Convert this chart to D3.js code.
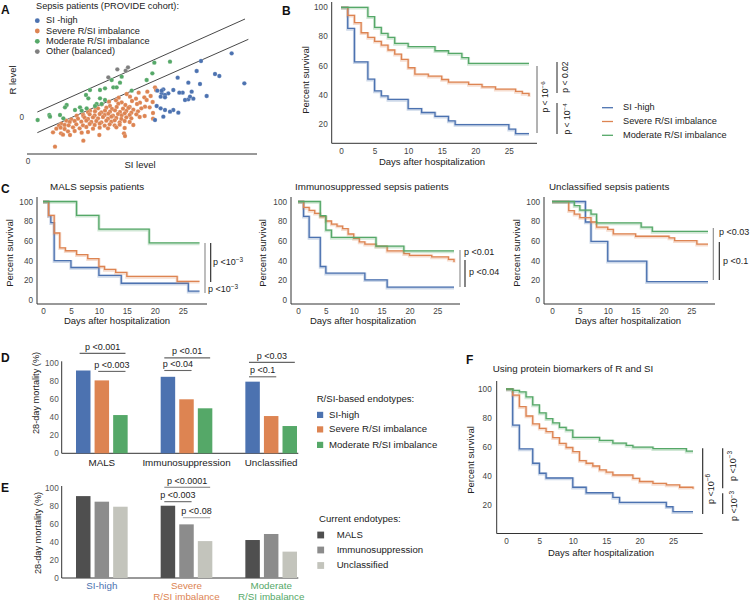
<!DOCTYPE html>
<html><head><meta charset="utf-8">
<script src="https://cdn.jsdelivr.net/npm/d3@7"></script>
<style>body{margin:0;background:#fff}svg{display:block}</style>
</head><body><svg id="c" width="750" height="604"></svg>
<script>
// ================= DATA =================
const seriesNames = ["SI -high","Severe R/SI imbalance","Moderate R/SI imbalance","Other (balanced)"];
// Panel A scatter: [SI level, R level]
const aSevere = [[38.1,9.2],[38.4,8.4],[33.2,7.6],[29.6,7.2],[35.8,7.9],
 [27.2,6.1],[30.6,6.4],[32.4,5.8],[34.9,6.2],[36.8,6.6],
 [24.3,4.9],[26.4,5.3],[28.1,4.7],[31.2,5.1],[33.6,4.6],[35.6,5.4],[37.4,4.8],
 [20.3,3.0],[22.1,4.1],[24.6,3.6],[27.1,4.3],[29.2,3.9],[30.5,3.3],[32.7,4.2],[35.1,3.4],
 [18.6,2.2],[21.0,2.9],[23.5,3.1],[25.2,2.7],[26.6,3.3],[28.5,2.8],[30.1,3.0],[31.6,2.5],[34.0,2.9],[36.5,3.2],
 [16.5,1.1],[18.0,1.8],[20.1,2.0],[22.0,1.7],[23.1,2.2],[24.6,1.9],[26.1,2.3],[27.6,1.8],[29.5,2.1],[31.0,1.6],[33.0,2.0],[37.5,1.5],
 [13.0,-0.4],[14.6,0.7],[16.6,0.6],[18.5,1.1],[20.0,0.8],[21.5,1.2],[23.0,0.9],[24.1,1.3],[25.5,0.7],[27.0,1.2],[28.1,0.8],[29.0,1.4],[30.5,0.9],[32.5,1.1],[35.0,0.6],
 [11.5,-0.8],[15.0,-0.2],[17.0,0.1],[18.0,-0.3],[19.5,0.2],[21.0,-0.1],[22.5,0.3],[24.0,-0.2],[25.0,0.4],[26.5,0.0],[28.0,-0.3],[29.5,0.2],[31.0,-0.1],[33.5,0.3],[37.5,-0.2],
 [10.0,-1.7],[12.5,-1.2],[14.0,-0.9],[16.0,-1.1],[17.5,-0.8],[19.0,-1.2],[20.5,-0.9],[22.0,-1.3],[23.5,-0.8],[25.0,-1.1],[26.0,-0.7],[27.5,-1.3],[29.0,-0.9],[30.5,-1.2],
 [9.3,-2.3],[11.0,-2.1],[12.2,-2.2],[14.5,-1.9],[16.5,-2.2],[18.5,-1.8],[20.0,-2.1],[21.5,-1.7],[23.0,-2.3],[24.5,-1.9],[26.0,-2.2],[27.5,-2.0],[31.6,-2.1],
 [8.5,-3.2],[9.8,-2.9],[11.0,-3.3],[13.5,-2.8],[15.5,-3.1],[17.5,-2.7],[19.5,-3.2],[21.5,-2.9],[24.0,-3.1],[26.5,-2.8],[29.0,-3.0],
 [9.9,-4.6],[12.0,-4.0],[14.0,-3.9],[18.0,-4.2],[21.4,-5.1],[28.8,-4.6],[16.1,-4.4],
 [10.5,-5.0],[12.6,-5.1],[29.1,-5.4],[16.6,-6.8],[8.1,-8.6],[7.5,-4.3]];
const aModerate = [[37.9,16.6],[42.6,16.9],[37.3,13.4],[35.6,11.4],[28.1,12.4],[27.6,10.6],[25.1,11.4],[25.6,9.2],[26.6,9.2],[21.6,8.4],[18.6,8.4],[17.4,6.9],[18.1,5.9],[21.6,5.9],[23.1,5.4],[20.6,4.2],[22.1,4.2],[20.1,3.6],[11.6,3.9],[11.1,3.2],[15.6,3.2],[16.1,2.2],[14.1,2.4],[17.6,2.9],[6.4,0.9],[6.6,0.4],[2.9,-0.6],[9.6,0.9],[10.6,-0.1],[31.1,8.2],[23.1,8.9]];
const aOther = [[24.1,12.2],[26.8,14.6],[29.3,14.2],[30.0,15.2]];
const aSIhigh = [[61.1,19.4],[51.9,17.1],[50.6,14.1],[56.1,13.2],[57.4,12.6],[64.9,10.4],[44.9,12.1],[48.1,10.6],[51.6,10.2],[53.6,6.6],[40.6,8.6],[43.6,8.4],[46.4,7.6],[45.4,7.6],[42.1,7.4],[40.1,7.4],[41.1,6.9],[39.8,6.4],[41.1,6.2],[49.1,7.9],[48.1,5.6],[49.6,5.8],[47.1,5.4],[38.6,3.6],[39.8,2.9],[41.1,2.4],[43.6,2.4],[45.1,1.6],[40.6,0.4],[38.1,-0.6],[42.6,1.9],[38.8,8.2],[40.1,8.2],[48.6,6.4]];
const aUpperLine = [[2.8,1.8],[65.1,29.7]];
const aLowerLine = [[2.8,-4.4],[66.1,23.6]];

// Panel B survival (days, percent)
const bDaysSI = [0,1,2,4,5,6,7,10,12,14,16,17,25,26,28];
const bSurvSI = [100,85.5,62.5,50.6,42.5,39,36.6,30.3,27.6,25,21.8,19.3,16.1,13.1,13.1];
const bDaysSev = [0,1,2,3,4,5,6,7,8,9,10,11,13,15,16,19,21,23,26,27,28];
const bSurvSev = [100,94.5,89.4,82.5,79.3,76.6,74,70.6,67.8,64.1,58.4,54,52.6,50.3,48.5,46.9,45.3,43.7,42.1,40.7,38.9];
const bDaysMod = [0,4,5,6,7,8,10,14,16,18,19,28];
const bSurvMod = [100,93.6,86.2,82,79.3,75.2,72.9,70.1,68.3,65.3,61.4,61.4];

// Panel C1 MALS
const c1DaysSI = [0,1,1.4,2,5,10,14,26,28];
const c1SurvSI = [100,85.7,78.6,40,33,25,17,9,9];
const c1DaysSev = [0,1,2,3,4,6,8,10,11,13,15,24,28];
const c1SurvSev = [100,86,68,53,50,46,42,34,31,28,24,19,19];
const c1DaysMod = [0,6,10,19,28];
const c1SurvMod = [100,86,72,58,58];
// Panel C2 Immunosuppressed
const c2DaysSI = [0,1,2,4,5,12,16,28];
const c2SurvSI = [100,85,63.5,34,27.3,20.5,13,13];
const c2DaysSev = [0,1,2,3,4,5,6,7,8,9,10,11,12,14,16,19,20,24,27,28];
const c2SurvSev = [100,94,91,88,84.6,80.2,77.1,75.1,72.4,67,62.5,59,56.7,54.6,49.8,47.1,45.4,43.7,41.3,38.6];
const c2DaysMod = [0,4,5,6,14,19,28];
const c2SurvMod = [100,85.7,71,63.5,54.6,49.8,49.8];
// Panel C3 Unclassified
const c3DaysSI = [0,6,7,10,17,28];
const c3SurvSI = [100,79.2,59.5,39.4,18.7,18.7];
const c3DaysSev = [0,3,4,5,7,8,10,11,15,21,22,26,28];
const c3SurvSev = [100,90.7,87.2,83.7,79.2,74,71.6,67.1,64.7,63,60.2,56.7,56.7];
const c3DaysMod = [0,4,5,7,8,16,18,28];
const c3SurvMod = [100,95.8,91.3,87.2,78.2,74,69.6,69.6];

// Panel D: 28-day mortality by current endotype
const dGroups = ["MALS","Immunosuppression","Unclassified"];
const dSIhigh = [92,85,79.6];
const dSevere = [81,60,41.4];
const dModerate = [42.5,50,30.3];
const dSig = [{g:0,a:0,b:2,v:111,t:"p <0.001"},{g:0,a:1,b:2,v:91,t:"p <0.003"},
 {g:1,a:0,b:2,v:106,t:"p <0.01"},{g:1,a:0,b:1,v:92,t:"p <0.04"},
 {g:2,a:0,b:2,v:101,t:"p <0.03"},{g:2,a:0,b:1,v:85,t:"p <0.1"}];
// Panel E: 28-day mortality by R/SI endotype
const eGroups = [["SI-high"],["Severe","R/SI imbalance"],["Moderate","R/SI imbalance"]];
const eMALS = [91,80.3,42.2];
const eImmuno = [84.8,59.6,48.9];
const eUnclass = [79.2,41,29.3];
const eSig = [{g:1,a:0,b:2,v:100.8,t:"p <0.0001",c:"#777"},{g:1,a:0,b:1,v:84.8,t:"p <0.003",c:"#666"},{g:1,a:1,b:2,v:67,t:"p <0.08",c:"#aaa"}];
const pctTicks = [0,20,40,60,80,100];
const dayTicks = [0,5,10,15,20,25];

// Panel F
const fDaysSI = [0,1,2,4,5,6,10,12,16,17,24,25,28];
const fSurvSI = [100,75,58.5,48.6,41.7,38.4,32,28.2,25,21.6,18.5,15.1,15.1];
const fDaysSev = [0,1,2,3,4,5,6,7,8,9,10,11,12,13,14,15,16,19,20,22,24,26,28];
const fSurvSev = [100,95.8,87.8,81.3,75.8,72.8,70.5,66.3,62.4,59.5,56.6,50.5,48.6,46.7,44,42.5,40.5,38.2,36,34.7,33.6,32,31];
const fDaysMod = [0,1,2,3,4,5,6,7,8,9,10,14,16,18,19,22,27,28];
const fSurvMod = [100,99,98,94.5,89,83.5,79.5,76.5,73.5,71.5,66.5,64.4,62.6,61,59.8,58.7,57,57];

// ================= STYLE =================
const FONT = 'Arial, "Liberation Sans", Helvetica, sans-serif';
const C = {si:"#4C72B0", sev:"#DD8452", mod:"#55A868", oth:"#7f7f7f"};
const GREYS = ["#4f4f4f","#8c8c8c","#c3c4bc"];
const svg = d3.select("#c").attr("font-family",FONT);

function T(x,y,s,o={}){
  const t = svg.append("text").attr("x",x).attr("y",y).text(s)
    .attr("font-size",o.fs||9.5).attr("fill",o.fill||"#222")
    .attr("text-anchor",o.anchor||"start").attr("dominant-baseline",o.base||"middle");
  if(o.bold) t.attr("font-weight","bold");
  if(o.rot) t.attr("transform",`rotate(${o.rot},${x},${y})`);
  return t;
}
function P(x,y,base,sup,o={}){ // p-value with superscript
  const t = T(x,y,base,o);
  t.append("tspan").attr("dy",-3.5).attr("font-size",(o.fs||9)*0.72).text(sup);
  return t;
}
function L(x1,y1,x2,y2,c,w){
  svg.append("line").attr("x1",x1).attr("y1",y1).attr("x2",x2).attr("y2",y2)
    .attr("stroke",c||"#333").attr("stroke-width",w||1);
}

// ================= PANEL A =================
{
  const x = d3.scaleLinear().domain([0,66.6]).range([28,250]);
  const y = d3.scaleLinear().domain([-10.5,31.5]).range([153,13]);
  T(1,11,"A",{fs:12,bold:true,fill:"#111"});
  T(36,7,"Sepsis patients (PROVIDE cohort):",{fs:9.2});
  [[C.si,seriesNames[0]],[C.sev,seriesNames[1]],[C.mod,seriesNames[2]],[C.oth,seriesNames[3]]].forEach((d,i)=>{
    svg.append("circle").attr("cx",37.3).attr("cy",20.7+i*10.3).attr("r",2.4).attr("fill",d[0]);
    T(46,21+i*10.3,d[1],{fs:9.2});
  });
  const ln = d3.line().x(d=>x(d[0])).y(d=>y(d[1]));
  [aUpperLine,aLowerLine].forEach(l=>svg.append("path").attr("d",ln(l)).attr("stroke","#333").attr("stroke-width",0.9).attr("fill","none"));
  const pts = (arr,col)=>svg.append("g").selectAll("circle").data(arr).join("circle")
    .attr("cx",d=>x(d[0])).attr("cy",d=>y(d[1])).attr("r",2.2)
    .attr("fill",col).attr("stroke","#fff").attr("stroke-opacity",0.5).attr("stroke-width",0.4);
  pts(aSevere,C.sev); pts(aModerate,C.mod); pts(aOther,C.oth); pts(aSIhigh,C.si);
  L(27,154,257,154,"#333",1);
  T(24,y(0),"0",{fs:8.2,anchor:"end",fill:"#444"});
  T(x(0),161.5,"0",{fs:8.2,anchor:"middle",fill:"#444"});
  T(140,165.5,"SI level",{fs:9.5,anchor:"middle"});
  T(13,80,"R level",{fs:9.5,anchor:"middle",rot:-90});
}

// ================= KM helper =================
function km(cfg){
  const x = d3.scaleLinear().domain([0,28]).range(cfg.xr);
  const y = d3.scaleLinear().domain([0,100]).range(cfg.yr);
  L(cfg.ax,cfg.top,cfg.ax,cfg.axY,"#333",1);
  L(cfg.ax,cfg.axY,cfg.right,cfg.axY,"#333",1);
  const ya = svg.append("g").attr("transform",`translate(${cfg.ax},0)`)
    .call(d3.axisLeft(y).tickValues(cfg.yt).tickSize(0).tickPadding(cfg.ypad));
  ya.select(".domain").remove();
  ya.selectAll("text").attr("font-size",8.2).attr("fill","#444").attr("font-family",FONT);
  const xa = svg.append("g").attr("transform",`translate(0,${cfg.axY})`)
    .call(d3.axisBottom(x).tickValues(dayTicks).tickSize(0).tickPadding(cfg.xpad));
  xa.select(".domain").remove();
  xa.selectAll("text").attr("font-size",8.2).attr("fill","#444").attr("font-family",FONT);
  const line = d3.line().x(d=>x(d[0])).y(d=>y(d[1])).curve(d3.curveStepAfter);
  cfg.series.forEach(s=>{
    const pts = d3.zip(s[0],s[1]);
    svg.append("path").attr("d",line(pts)).attr("fill","none").attr("stroke",s[2])
      .attr("stroke-opacity",0.28).attr("stroke-width",3).attr("transform","translate(0,0.8)");
    svg.append("path").attr("d",line(pts)).attr("fill","none").attr("stroke",s[2]).attr("stroke-width",1.3);
  });
  if(cfg.title) T(cfg.title[0],cfg.title[1],cfg.title[2],{fs:9.8});
  T(cfg.ylab[0],cfg.ylab[1],"Percent survival",{fs:9.5,anchor:"middle",rot:-90});
  T(cfg.xlab[0],cfg.xlab[1],"Days after hospitalization",{fs:9.5,anchor:"middle"});
  return {x,y};
}

// ================= PANEL B =================
T(282,12,"B",{fs:12,bold:true,fill:"#111"});
km({xr:[341,529],yr:[152.6,7.3],ax:331.7,top:2,axY:143.3,right:537,yt:[20,40,60,80,100],ypad:4,xpad:5,
  series:[[bDaysSI,bSurvSI,C.si],[bDaysSev,bSurvSev,C.sev],[bDaysMod,bSurvMod,C.mod]],
  ylab:[306,80],xlab:[432,162]});
L(537,66,537,133,"#666",1);
P(546,97,"p < 10","−6",{fs:8.6,anchor:"middle",rot:-90});
L(557,62,557,93,"#222",1);
L(557,103,557,134,"#222",1);
T(566,77,"p < 0.02",{fs:8.6,anchor:"middle",rot:-90});
P(568,119,"p < 10","−4",{fs:8.6,anchor:"middle",rot:-90});
[[C.si,"SI -high"],[C.sev,"Severe R/SI imbalance"],[C.mod,"Moderate R/SI imbalance"]].forEach((d,i)=>{
  L(602,107.7+i*13.8,613,107.7+i*13.8,d[0],1.3);
  T(623,107.7+i*13.8,d[1],{fs:9.2});
});

// ================= PANEL C =================
T(1,190,"C",{fs:12,bold:true,fill:"#111"});
km({xr:[43,199.5],yr:[300,201.5],ax:37,top:197,axY:304,right:207,yt:pctTicks,ypad:4,xpad:4,
  series:[[c1DaysSI,c1SurvSI,C.si],[c1DaysSev,c1SurvSev,C.sev],[c1DaysMod,c1SurvMod,C.mod]],
  title:[50,187,"MALS sepsis patients"],ylab:[10,253],xlab:[117,321]});
L(205,243,205,293,"#888",1.1); L(210.7,243,210.7,282,"#222",1.1);
P(213,263,"p <10","−3",{fs:9});
P(208,290,"p <10","−3",{fs:9});
km({xr:[298,454],yr:[300,201.5],ax:291,top:197,axY:304,right:460,yt:pctTicks,ypad:4,xpad:4,
  series:[[c2DaysSI,c2SurvSI,C.si],[c2DaysSev,c2SurvSev,C.sev],[c2DaysMod,c2SurvMod,C.mod]],
  title:[295,187,"Immunosuppressed sepsis patients"],ylab:[263,253],xlab:[363,321]});
L(460,250,460,287,"#888",1.1); L(465,260,465,287,"#222",1.1);
T(464,253,"p <0.01",{fs:9});
T(469,273,"p <0.04",{fs:9});
km({xr:[552,708],yr:[300,201.5],ax:544,top:197,axY:304,right:715,yt:pctTicks,ypad:4,xpad:4,
  series:[[c3DaysSI,c3SurvSI,C.si],[c3DaysSev,c3SurvSev,C.sev],[c3DaysMod,c3SurvMod,C.mod]],
  title:[549,187,"Unclassified sepsis patients"],ylab:[517,253],xlab:[628,321]});
L(713.3,228,713.3,280,"#888",1.1); L(719.3,242,719.3,280,"#222",1.1);
T(719,233,"p <0.03",{fs:9});
T(723,262,"p <0.1",{fs:9});

// ================= PANELS D & E =================
const gx = d3.scaleBand().domain([0,1,2]).range([76,297]).paddingInner(0.39);
const bx = d3.scaleBand().domain([0,1,2]).range([0,gx.bandwidth()]).paddingInner(0.22);
function barPanel(cfg){
  const y = d3.scaleLinear().domain([0,100]).range(cfg.yr);
  L(61.7,cfg.yr[1]-2,61.7,cfg.yr[0],"#333",1);
  L(61.7,cfg.yr[0],298.3,cfg.yr[0],"#333",1);
  const ya = svg.append("g").attr("transform","translate(61.7,0)")
    .call(d3.axisLeft(y).tickValues(pctTicks).tickSize(0).tickPadding(3));
  ya.select(".domain").remove();
  ya.selectAll("text").attr("font-size",8.2).attr("fill","#555").attr("font-family",FONT);
  cfg.series.forEach((vals,si)=>{
    svg.append("g").selectAll("rect").data(vals).join("rect")
      .attr("x",(d,gi)=>gx(gi)+bx(si)).attr("width",bx.bandwidth())
      .attr("y",d=>y(d)).attr("height",d=>cfg.yr[0]-y(d)).attr("fill",cfg.colors[si]);
  });
  cfg.sig.forEach(s=>{
    const x1 = gx(s.g)+bx(s.a)+0.25*bx.bandwidth(), x2 = gx(s.g)+bx(s.b)+0.85*bx.bandwidth();
    L(x1,y(s.v),x2,y(s.v),s.c||"#666",1.1);
    T((x1+x2)/2,y(s.v)-6,s.t,{fs:9,anchor:"middle"});
  });
  T(cfg.ylab[0],cfg.ylab[1],"28-day mortality (%)",{fs:9.2,anchor:"middle",rot:-90});
  return y;
}
T(1,359,"D",{fs:12,bold:true,fill:"#111"});
barPanel({yr:[453.3,363.3],series:[dSIhigh,dSevere,dModerate],colors:[C.si,C.sev,C.mod],sig:dSig,ylab:[37,393]});
dGroups.forEach((g,i)=>T(gx(i)+gx.bandwidth()/2,463.5,g,{fs:9.8,anchor:"middle"}));
T(316.7,399.5,"R/SI-based endotypes:",{fs:9.6});
[[C.si,"SI-high"],[C.sev,"Severe R/SI imbalance"],[C.mod,"Moderate R/SI imbalance"]].forEach((d,i)=>{
  const yy=[415,429.5,445][i];
  svg.append("rect").attr("x",317).attr("y",yy-3.2).attr("width",6.2).attr("height",6.2).attr("fill",d[0]);
  T(329,yy,d[1],{fs:9.6});
});

T(1,489,"E",{fs:12,bold:true,fill:"#111"});
barPanel({yr:[578,488],series:[eMALS,eImmuno,eUnclass],colors:GREYS,sig:eSig,ylab:[39,533]});
const eCol=[C.si,C.sev,C.mod];
eGroups.forEach((g,i)=>g.forEach((s,j)=>T(gx(i)+gx.bandwidth()/2,586.5+j*11.3,s,{fs:9.8,anchor:"middle",fill:eCol[i]})));
T(319,519.5,"Current endotypes:",{fs:9.6});
["MALS","Immunosuppression","Unclassified"].forEach((s,i)=>{
  const yy=[535,550,565.5][i];
  svg.append("rect").attr("x",317.3).attr("y",yy-3.4).attr("width",6.8).attr("height",6.8).attr("fill",GREYS[i]);
  T(336.7,yy,s,{fs:9.6});
});

// ================= PANEL F =================
T(466,361,"F",{fs:12,bold:true,fill:"#111"});
km({xr:[506,693],yr:[533.5,389],ax:496.7,top:381,axY:533.5,right:702.7,yt:[20,40,60,80,100],ypad:5,xpad:5,
  series:[[fDaysSI,fSurvSI,C.si],[fDaysSev,fSurvSev,C.sev],[fDaysMod,fSurvMod,C.mod]],
  title:[492.7,369.5,"Using protein biomarkers of R and SI"],ylab:[471,460],xlab:[601,553.5]});
L(702.7,448.3,702.7,514,"#222",1.1);
P(711.5,489,"p <10","−6",{fs:9,anchor:"middle",rot:-90});
L(722.7,448.3,722.7,488.3,"#222",1.1);
L(722.7,493.3,722.7,514,"#222",1.1);
P(733.5,466,"p <10","−3",{fs:9,anchor:"middle",rot:-90});
P(735,506,"p <10","−3",{fs:9,anchor:"middle",rot:-90});
</script></body></html>
